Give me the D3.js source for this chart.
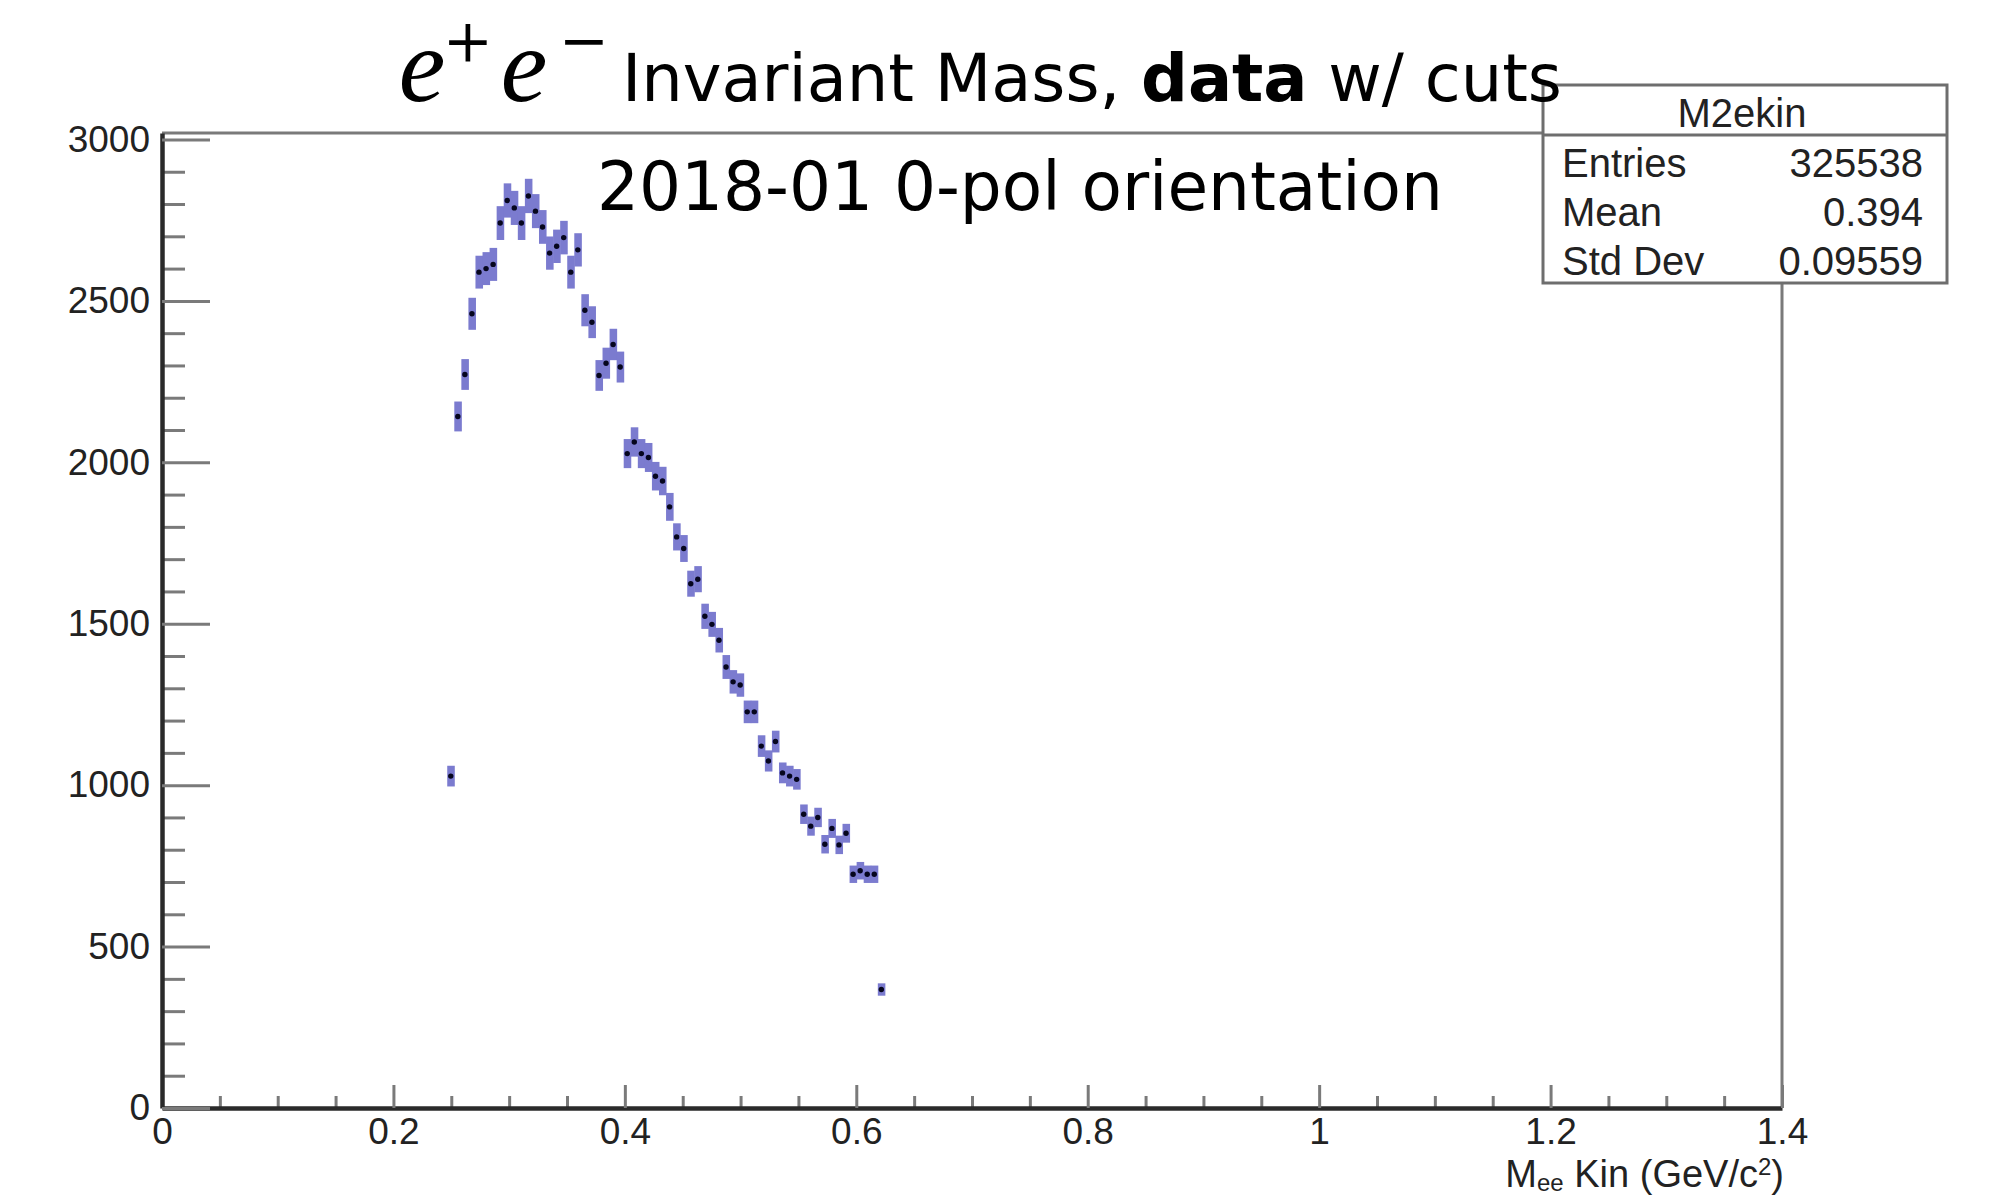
<!DOCTYPE html>
<html><head><meta charset="utf-8">
<script src="https://cdn.jsdelivr.net/npm/d3@7"></script>
<style>html,body{margin:0;padding:0;background:#fff;} svg{display:block}</style>
</head><body>
<svg id="c" width="1992" height="1197"></svg>
<script>
// ---- data ----
const histName = "M2ekin";
const statsLabels = ["Entries", "Mean", "Std Dev"];
const statsValues = ["325538", "0.394", "0.09559"];
const binStart = 0.2465;   // low edge of first filled bin (GeV/c^2)
const binWidth = 0.0061;   // bin width (GeV/c^2)
const counts = [1028, 2142, 2272, 2460, 2589, 2600, 2613, 2741, 2811, 2788,
                2741, 2825, 2778, 2729, 2648, 2669, 2696, 2589, 2658, 2471,
                2434, 2269, 2307, 2365, 2295, 2027, 2063, 2027, 2015, 1957,
                1942, 1862, 1769, 1733, 1624, 1638, 1523, 1498, 1449, 1366,
                1320, 1310, 1227, 1227, 1121, 1075, 1135, 1038, 1028, 1018,
                910, 873, 900, 817, 866, 815, 851, 724, 735, 724, 724, 367];
const xMajorTicks = [0, 0.2, 0.4, 0.6, 0.8, 1.0, 1.2, 1.4];
const xTickLabels = ["0", "0.2", "0.4", "0.6", "0.8", "1", "1.2", "1.4"];
const yMajorTicks = [0, 500, 1000, 1500, 2000, 2500, 3000];
const yTickLabels = ["0", "500", "1000", "1500", "2000", "2500", "3000"];
const titleMath = ["e", "+", "e", "\u2212"];
const titleText = ["Invariant Mass, ", "data", " w/ cuts"];
const subtitle = "2018-01 0-pol orientation";

function draw() {
  const plot = {left: 162, right: 1782, top: 133, bottom: 1108};
  const x = d3.scaleLinear().domain([0, 1.4]).range([plot.left, plot.right]);
  const y = d3.scaleLinear().domain([0, 3020]).range([plot.bottom, plot.top]);
  const svg = d3.select("#c");
  const axisFont = "'Liberation Sans', Arial, Helvetica, sans-serif";

  // frame top & right
  svg.append("path")
    .attr("d", `M${plot.left},${plot.top}H${plot.right}V${plot.bottom}`)
    .attr("fill", "none").attr("stroke", "#7a7a7a").attr("stroke-width", 3);

  // histogram error boxes (E2) + markers
  const bins = counts.map((c, i) => ({x0: binStart + i * binWidth, x1: binStart + (i + 1) * binWidth, c}));
  svg.append("g").selectAll("rect").data(bins).join("rect")
    .attr("x", d => x(d.x0))
    .attr("width", d => x(d.x1) - x(d.x0) + 0.5)
    .attr("y", d => y(d.c + Math.sqrt(d.c)))
    .attr("height", d => y(d.c - Math.sqrt(d.c)) - y(d.c + Math.sqrt(d.c)))
    .attr("fill", "#7b7bcf");
  svg.append("g").selectAll("circle").data(bins).join("circle")
    .attr("cx", d => x((d.x0 + d.x1) / 2))
    .attr("cy", d => y(d.c))
    .attr("r", 2.7)
    .attr("fill", "#06061e");

  // x axis
  const xMinor = d3.range(0, 1.4001, 0.05).filter(v => Math.abs(v / 0.2 - Math.round(v / 0.2)) > 1e-6);
  const gxMinor = svg.append("g").attr("transform", `translate(0,${plot.bottom})`)
    .call(d3.axisBottom(x).tickValues(xMinor).tickSize(-12).tickSizeOuter(0).tickFormat(""));
  gxMinor.select(".domain").remove();
  const gx = svg.append("g").attr("transform", `translate(0,${plot.bottom})`)
    .call(d3.axisBottom(x).tickValues(xMajorTicks).tickSize(-23).tickSizeOuter(0).tickPadding(10)
      .tickFormat((d, i) => xTickLabels[i]));
  svg.selectAll("g.tick line").attr("stroke", "#7a7a7a").attr("stroke-width", 3);
  gx.select(".domain").attr("stroke", "#2a2a2a").attr("stroke-width", 4.5);
  gx.selectAll("text").attr("font-family", axisFont).attr("font-size", 37).attr("fill", "#222");

  // y axis
  const yMinor = d3.range(0, 3001, 100).filter(v => v % 500 !== 0);
  const gyMinor = svg.append("g").attr("transform", `translate(${plot.left},0)`)
    .call(d3.axisLeft(y).tickValues(yMinor).tickSize(-23).tickSizeOuter(0).tickFormat(""));
  gyMinor.select(".domain").remove();
  gyMinor.selectAll("line").attr("stroke", "#7a7a7a").attr("stroke-width", 3);
  const gy = svg.append("g").attr("transform", `translate(${plot.left},0)`)
    .call(d3.axisLeft(y).tickValues(yMajorTicks).tickSize(-48).tickSizeOuter(0).tickPadding(12)
      .tickFormat((d, i) => yTickLabels[i]));
  gy.selectAll("line").attr("stroke", "#7a7a7a").attr("stroke-width", 3);
  gy.select(".domain").attr("stroke", "#2a2a2a").attr("stroke-width", 4.5);
  gy.selectAll("text").attr("font-family", axisFont).attr("font-size", 37).attr("fill", "#222");

  // x axis title
  const xt = svg.append("text").attr("x", plot.right + 2).attr("y", 1187)
    .attr("text-anchor", "end").attr("font-family", axisFont).attr("font-size", 38).attr("fill", "#222");
  xt.append("tspan").text("M");
  xt.append("tspan").attr("font-size", 24).attr("dy", 4).text("ee");
  xt.append("tspan").attr("dy", -4).text(" Kin (GeV/c");
  xt.append("tspan").attr("font-size", 24).attr("dy", -12).text("2");
  xt.append("tspan").attr("dy", 12).text(")");

  // stats box
  const sb = {x: 1543, y: 85, w: 404, h: 198, div: 135};
  svg.append("rect").attr("x", sb.x).attr("y", sb.y).attr("width", sb.w).attr("height", sb.h)
    .attr("fill", "#fff").attr("stroke", "#6e6e6e").attr("stroke-width", 3);
  svg.append("line").attr("x1", sb.x).attr("x2", sb.x + sb.w).attr("y1", sb.div).attr("y2", sb.div)
    .attr("stroke", "#6e6e6e").attr("stroke-width", 3);
  svg.append("text").attr("x", 1742).attr("y", 127).attr("text-anchor", "middle")
    .attr("font-family", axisFont).attr("font-size", 40).attr("fill", "#222").text(histName);
  const rowsY = [177, 226, 275];
  statsLabels.forEach((lab, i) => {
    svg.append("text").attr("x", 1562).attr("y", rowsY[i]).attr("font-family", axisFont)
      .attr("font-size", 40).attr("fill", "#222").text(lab);
    svg.append("text").attr("x", 1923).attr("y", rowsY[i]).attr("text-anchor", "end")
      .attr("font-family", axisFont).attr("font-size", 40).attr("fill", "#222").text(statsValues[i]);
  });

  // title (math part)
  const mathX = [422, 468, 524, 584];
  const mathY = [101, 61, 101, 61];
  const mathSize = [105, 60, 105, 60];
  const mathFont = ["'Liberation Serif', serif", "'DejaVu Serif', serif", "'Liberation Serif', serif", "'DejaVu Serif', serif"];
  titleMath.forEach((t, i) => {
    svg.append("text").attr("x", mathX[i]).attr("y", mathY[i]).attr("text-anchor", "middle")
      .attr("font-family", mathFont[i]).attr("font-style", i % 2 === 0 ? "italic" : "normal")
      .attr("font-size", mathSize[i]).attr("fill", "#000").text(t);
  });

  const sans = "'DejaVu Sans Condensed', 'DejaVu Sans', sans-serif";
  function fitX(sel, x0, target) {
    const w = sel.node().getComputedTextLength();
    const s = target / w;
    sel.attr("transform", `translate(${x0},0) scale(${s},1) translate(${-x0},0)`);
  }
  const tt = svg.append("text").attr("x", 622).attr("y", 101)
    .attr("font-family", sans).attr("font-stretch", "condensed").attr("font-size", 66).attr("fill", "#000");
  titleText.forEach((t, i) => tt.append("tspan").attr("font-weight", i === 1 ? "bold" : "normal").text(t));
  fitX(tt, 622, 940);

  const st = svg.append("text").attr("x", 597).attr("y", 210)
    .attr("font-family", sans).attr("font-stretch", "condensed").attr("font-size", 68).attr("fill", "#000")
    .text(subtitle);
  fitX(st, 597, 846);
}
if (document.fonts && document.fonts.ready) document.fonts.ready.then(draw); else draw();
</script>
</body></html>
